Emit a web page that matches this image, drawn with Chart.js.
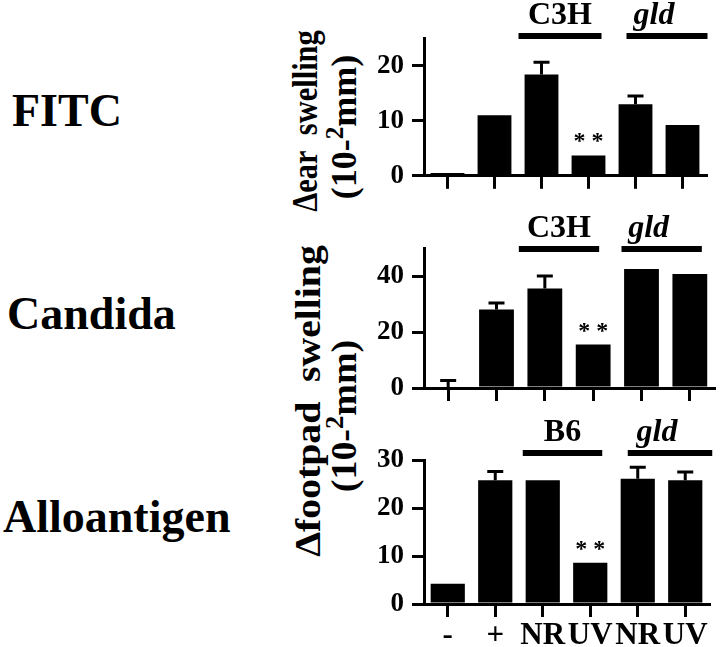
<!DOCTYPE html>
<html>
<head>
<meta charset="utf-8">
<script src="https://cdn.jsdelivr.net/npm/chart.js@4.4.1/dist/chart.umd.min.js"></script>
<style>
  body { margin: 0; background: #fff; }
  #page { position: relative; width: 720px; height: 647px; overflow: hidden;
          font-family: "Liberation Serif", "DejaVu Serif", serif; font-weight: bold; color: #000; }
  canvas { position: absolute; }
  .name { position: absolute; font-size: 46px; line-height: 46px; white-space: nowrap; }
  .ytitle { position: absolute; font-size: 36px; line-height: 36px; white-space: nowrap; }
  .sup { font-size: 0.7em; position: relative; top: -0.5em; }
</style>
</head>
<body>
<div id="page">
  <div class="name" style="left:12px; top:88px;">FITC</div>
  <div class="name" style="left:7px; top:291px;">Candida</div>
  <div class="name" style="left:3px; top:494px;">Alloantigen</div>

  <div class="ytitle" id="earTitle">&Delta;ear&nbsp; swelling</div>
  <div class="ytitle" id="earUnit">(10-<span class="sup">2</span>mm)</div>
  <div class="ytitle" id="footTitle">&Delta;footpad&nbsp; swelling</div>
  <div class="ytitle" id="footUnit">(10-<span class="sup">2</span>mm)</div>

  <canvas id="fitcChart" width="380" height="200" style="left:340px; top:0px;"></canvas>
  <canvas id="candidaChart" width="380" height="215" style="left:340px; top:200px;"></canvas>
  <canvas id="alloChart" width="380" height="232" style="left:340px; top:415px;"></canvas>
</div>

<script>
// groups: naive, sensitized, then NR / UV for wild type and gld mice
var categories = ['-', '+', 'NR', 'UV', 'NR', 'UV'];

var fitcValues = [0.5, 11.0, 18.4, 3.7, 13.0, 9.2];
var fitcErrors = [null, null, 20.6, null, 14.5, null];
var fitcTicks = [0, 10, 20];
var fitcMax = 25;

var candidaValues = [0, 28.0, 35.5, 15.5, 42.5, 40.7];
var candidaErrors = [2.7, 30.4, 40.0, null, null, null];
var candidaTicks = [0, 20, 40];
var candidaMax = 50;

var alloValues = [4.2, 25.8, 25.8, 8.6, 26.1, 25.8];
var alloErrors = [null, 27.6, null, null, 28.5, 27.5];
var alloTicks = [0, 10, 20, 30];
var alloMax = 30;

var stars = ['', '', '', '* *', '', ''];
var fitcStrains = ['C3H', 'gld'];
var candidaStrains = ['C3H', 'gld'];
var alloStrains = ['B6', 'gld'];

var serif = '"Liberation Serif", "DejaVu Serif", serif';

// extra drawing per chart: error bars, asterisks, strain bars
var extras = {};

var annotate = {
  id: 'annotate',
  afterDatasetsDraw: function(chart) {
    var cfg = extras[chart.canvas.id];
    var ctx = chart.ctx;
    var xs = chart.scales.x, ys = chart.scales.y;
    var meta = chart.getDatasetMeta(0);
    var area = chart.chartArea;
    ctx.save();
    ctx.fillStyle = '#000';
    ctx.strokeStyle = '#000';

    //error bars (upper half only)
    ctx.lineWidth = 3;
    cfg.errors.forEach(function(e, i) {
      if (e == null) return;
      var bar = meta.data[i];
      var top = ys.getPixelForValue(e);
      ctx.beginPath();
      ctx.moveTo(bar.x, bar.y);
      ctx.lineTo(bar.x, top);
      ctx.moveTo(bar.x - 8, top);
      ctx.lineTo(bar.x + 8, top);
      ctx.stroke();
    });

    //asterisks
    ctx.font = 'bold 24px ' + serif;
    ctx.textAlign = 'center';
    ctx.textBaseline = 'alphabetic';
    stars.forEach(function(s, i) {
      if (!s) return;
      var bar = meta.data[i];
      ctx.fillText(s, bar.x, bar.y - 7);
    });

    //strain labels over NR/UV pairs
    cfg.strains.forEach(function(name, k) {
      var from = 2 + k * 2, to = from + 1;
      var dx = cfg.strainDx[k];
      var x1 = xs.getPixelForValue(from) + dx[0];
      var x2 = xs.getPixelForValue(to) + dx[1];
      var ly = area.top - cfg.lineGap;
      ctx.fillRect(x1, ly - 3, x2 - x1, 6);
      ctx.font = (name === 'gld' ? 'italic ' : '') + 'bold 32px ' + serif;
      ctx.fillText(name, (x1 + x2) / 2 + (name === 'gld' ? -13 : 0), ly - 12);
    });
    ctx.restore();
  }
};

function makeChart(id, values, ticks, max, cfg) {
  extras[id] = cfg;
  return new Chart(document.getElementById(id), {
    type: 'bar',
    data: {
      labels: categories,
      datasets: [{
        data: values,
        backgroundColor: '#000',
        borderWidth: 0,
        barPercentage: 0.72,
        categoryPercentage: 1
      }]
    },
    options: {
      responsive: false,
      animation: false,
      layout: { autoPadding: false, padding: cfg.padding },
      plugins: { legend: { display: false }, tooltip: { enabled: false } },
      scales: {
        x: {
          offset: true,
          grid: { offset: false, drawOnChartArea: false, tickLength: 13, lineWidth: 3, color: '#000' },
          border: { color: '#000', width: 3 },
          ticks: { display: cfg.showLabels, color: '#000', padding: 0,
                   maxRotation: 0, minRotation: 0, autoSkip: false,
                   font: { family: serif, weight: 'bold', size: 31 } },
          afterFit: function(s) { s.height = cfg.xHeight; }
        },
        y: {
          min: 0,
          max: max,
          grid: { drawOnChartArea: false, tickLength: 12, lineWidth: 3, color: '#000' },
          border: { color: '#000', width: 3 },
          ticks: { color: '#000', padding: 8, font: { family: serif, weight: 'bold', size: 27 } },
          afterBuildTicks: function(s) {
            s.ticks = ticks.map(function(v) { return { value: v }; });
          },
          afterFit: function(s) { s.width = 84; }
        }
      }
    },
    plugins: [annotate]
  });
}

makeChart('fitcChart', fitcValues, fitcTicks, fitcMax, {
  errors: fitcErrors, strains: fitcStrains, strainDx: [[-23, 13], [-9, 25]], lineGap: 2,
  padding: { top: 38, right: 14, bottom: 8, left: 0 }, xHeight: 13, showLabels: false
});
makeChart('candidaChart', candidaValues, candidaTicks, candidaMax, {
  errors: candidaErrors, strains: candidaStrains, strainDx: [[-26, 6], [-20, 12]], lineGap: -1,
  padding: { top: 48, right: 6, bottom: 14, left: 0 }, xHeight: 13, showLabels: false
});
makeChart('alloChart', alloValues, alloTicks, alloMax, {
  errors: alloErrors, strains: alloStrains, strainDx: [[-20, 12], [-10, 27]], lineGap: 7,
  padding: { top: 45, right: 11, bottom: 0, left: 0 }, xHeight: 43, showLabels: true
});

//rotated axis titles, stretched along the text to the figure's length
function placeTitle(id, cx, cy, len) {
  var el = document.getElementById(id);
  var w = el.offsetWidth, h = el.offsetHeight;
  el.style.left = (cx - w / 2) + 'px';
  el.style.top = (cy - h / 2) + 'px';
  el.style.transform = 'rotate(-90deg) scaleX(' + (len / w) + ')';
}
placeTitle('earTitle', 305, 121, 182);
placeTitle('earUnit', 346, 127, 145);
placeTitle('footTitle', 308, 401, 312);
placeTitle('footUnit', 346, 416, 153);
</script>
</body>
</html>
